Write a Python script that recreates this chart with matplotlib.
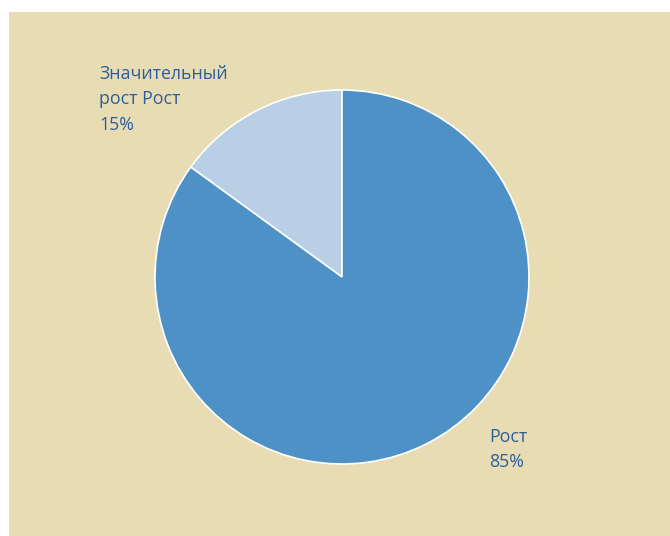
import matplotlib
matplotlib.use("Agg")
import matplotlib.pyplot as plt
from matplotlib.patches import Rectangle

labels = ["Значительный\nрост Рост\n15%", "Рост\n85%"]
values = [15, 85]
colors = ["#B8CFE6", "#4D91C6"]

W, H = 670, 536
fig = plt.figure(figsize=(W / 100, H / 100), dpi=100)
fig.patch.set_facecolor("white")

# beige panel behind the chart
fig.patches.append(Rectangle((9 / W, 0), 1 - 9 / W, (H - 12) / H,
                             transform=fig.transFigure, facecolor="#E8DCB5",
                             edgecolor="none", zorder=-10))

cx, cy, r = 342, 277, 187
ax = fig.add_axes([(cx - r) / W, (H - cy - r) / H, 2 * r / W, 2 * r / H])
ax.set_facecolor("none")
ax.pie(values, colors=colors, startangle=90, counterclock=True, radius=1,
       wedgeprops=dict(edgecolor="white", linewidth=1.2))
ax.set_xlim(-1, 1)
ax.set_ylim(-1, 1)
ax.set_aspect("equal")
ax.axis("off")

text_color = "#2C5E9C"
pos = [((99 - cx) / r, (cy - 65) / r), ((489 - cx) / r, (cy - 428) / r)]
for lab, (x, y) in zip(labels, pos):
    ax.text(x, y, lab, ha="left", va="top", fontsize=12.8, color=text_color,
            family="Open Sans", linespacing=1.52, clip_on=False)

fig.savefig("out.png", dpi=100)
